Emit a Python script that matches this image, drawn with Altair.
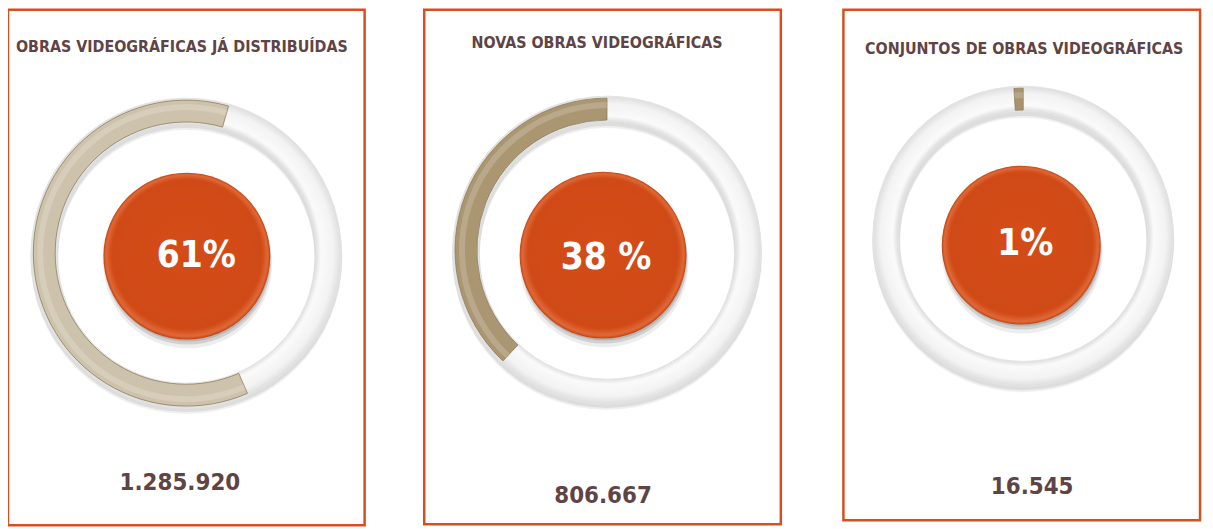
import math
import altair as alt
import pandas as pd

# ---- data ----
titles = ["OBRAS VIDEOGRÁFICAS JÁ DISTRIBUÍDAS", "NOVAS OBRAS VIDEOGRÁFICAS", "CONJUNTOS DE OBRAS VIDEOGRÁFICAS"]
shares = [61, 38, 1]
share_labels = ["61%", "38 %", "1%"]
totals = [1285920, 806667, 16545]

# ---- layout (chart pixel coordinates, page = chart + 8) ----
TAU = 2 * math.pi
panels = [
    dict(bx=(0, 359), by=(0, 519), cx=179.5, cy=245, r=156, ccx=180, ccy=248, cr=84,
         px=189.5, py=248, tx=175, ty=38, nx=173, ny=476, tan="#CDC2AB", rot=0.28),
    dict(bx=(419, 778), by=(0, 518), cx=603, cy=242, r=155, ccx=599, ccy=247, cr=84,
         px=602, py=250, tx=593, ty=34, nx=599, ny=490, tan="#AA9671", rot=0.0),
    dict(bx=(841, 1200), by=(0, 514), cx=1022, cy=228, r=151, ccx=1020, ccy=237, cr=80,
         px=1024, py=236, tx=1023, ty=40, nx=1031, ny=481, tan="#A8936C", rot=0.0),
]

ORANGE = "#D5501E"
BROWN = "#5F4445"
FONT = "'DejaVu Sans Condensed', 'Liberation Sans Narrow', sans-serif"

ring_grad = alt.RadialGradient(
    gradient="radial", x1=0.5, y1=0.5, r1=0, x2=0.5, y2=0.5, r2=0.5,
    stops=[
        alt.GradientStop(offset=0.0, color="#FFFFFF"),
        alt.GradientStop(offset=0.83, color="#DADADA"),
        alt.GradientStop(offset=0.87, color="#FAFAFA"),
        alt.GradientStop(offset=0.95, color="#F3F3F3"),
        alt.GradientStop(offset=1.0, color="#DEDEDE"),
    ],
)
disc_grad = alt.RadialGradient(
    gradient="radial", x1=0.5, y1=0.4, r1=0, x2=0.5, y2=0.5, r2=0.5,
    stops=[
        alt.GradientStop(offset=0.0, color="#D44C18"),
        alt.GradientStop(offset=0.9, color="#D04A17"),
        alt.GradientStop(offset=0.97, color="#E06A38"),
        alt.GradientStop(offset=1.0, color="#C0420F"),
    ],
)

base = alt.Chart(pd.DataFrame({"k": [0]}))
layers = []
for i, p in enumerate(panels):
    df = pd.DataFrame({
        "title": [titles[i]],
        "share": [shares[i]],
        "share_label": [share_labels[i]],
        "total": [totals[i]],
        "total_label": [f"{totals[i]:,}".replace(",", ".")],
    })
    pc = alt.Chart(df)
    r = p["r"]
    theta_scale = alt.Scale(domain=[0, 1], range=[p["rot"], p["rot"] + TAU])
    # panel border
    layers.append(base.mark_rect(fill="white", stroke=ORANGE, strokeWidth=2.5).encode(
        x=alt.value(p["bx"][0]), x2=alt.value(p["bx"][1]),
        y=alt.value(p["by"][0]), y2=alt.value(p["by"][1])))
    # ring shadow
    for dy, op in [(5, 0.06), (3, 0.08)]:
        layers.append(base.mark_arc(theta=0, theta2=TAU, innerRadius=r - 27, outerRadius=r + 1,
                                    color="#000000", opacity=op).encode(
            x=alt.value(p["cx"]), y=alt.value(p["cy"] + dy)))
    # white ring
    layers.append(base.mark_arc(theta=0, theta2=TAU, innerRadius=r - 25, outerRadius=r,
                                fill=ring_grad, stroke="#E4E4E4", strokeWidth=1).encode(
        x=alt.value(p["cx"]), y=alt.value(p["cy"])))
    # tan share arc (counter-clockwise from the top)
    arc_src = pc.transform_calculate(start="1 - datum.share / 100", end="1")
    layers.append(arc_src.mark_arc(
        innerRadius=r - 24, outerRadius=r - 2, color=p["tan"], stroke="#8F7D5C", strokeWidth=0.8
    ).encode(
        theta=alt.Theta("start:Q", scale=theta_scale),
        theta2=alt.Theta2("end:Q"),
        x=alt.value(p["cx"]), y=alt.value(p["cy"])))
    # soft highlight on the tan arc
    layers.append(arc_src.mark_arc(
        innerRadius=r - 12, outerRadius=r - 6, color="#FFFFFF", opacity=0.18
    ).encode(
        theta=alt.Theta("start:Q", scale=theta_scale),
        theta2=alt.Theta2("end:Q"),
        x=alt.value(p["cx"]), y=alt.value(p["cy"])))
    # disc shadow
    for dy, dr, op in [(8, 1, 0.07), (5, 0, 0.12), (3, -1, 0.12)]:
        layers.append(base.mark_arc(theta=0, theta2=TAU, outerRadius=p["cr"] + dr,
                                    color="#000000", opacity=op).encode(
            x=alt.value(p["ccx"] + 1), y=alt.value(p["ccy"] + dy)))
    # orange disc
    layers.append(base.mark_arc(theta=0, theta2=TAU, outerRadius=p["cr"], fill=disc_grad).encode(
        x=alt.value(p["ccx"]), y=alt.value(p["ccy"])))
    # percentage label
    layers.append(pc.mark_text(font=FONT, fontSize=37, fontWeight="bold", color="white",
                               align="center", baseline="middle").encode(
        text="share_label:N", x=alt.value(p["px"]), y=alt.value(p["py"])))
    # title
    layers.append(pc.mark_text(font=FONT, fontSize=16, fontWeight="bold", color=BROWN,
                               align="center", baseline="middle").encode(
        text="title:N", x=alt.value(p["tx"]), y=alt.value(p["ty"])))
    # total
    layers.append(pc.mark_text(font=FONT, fontSize=24, fontWeight="bold", color=BROWN,
                               align="center", baseline="middle").encode(
        text="total_label:N", x=alt.value(p["nx"]), y=alt.value(p["ny"])))

chart = alt.layer(*layers).resolve_scale(theta="independent").properties(
    width=1205, height=521, autosize=alt.AutoSizeParams(type="none"), padding=0
).configure_view(strokeWidth=0)

chart.save("out.html", embed_options={"renderer": "svg", "actions": False})
